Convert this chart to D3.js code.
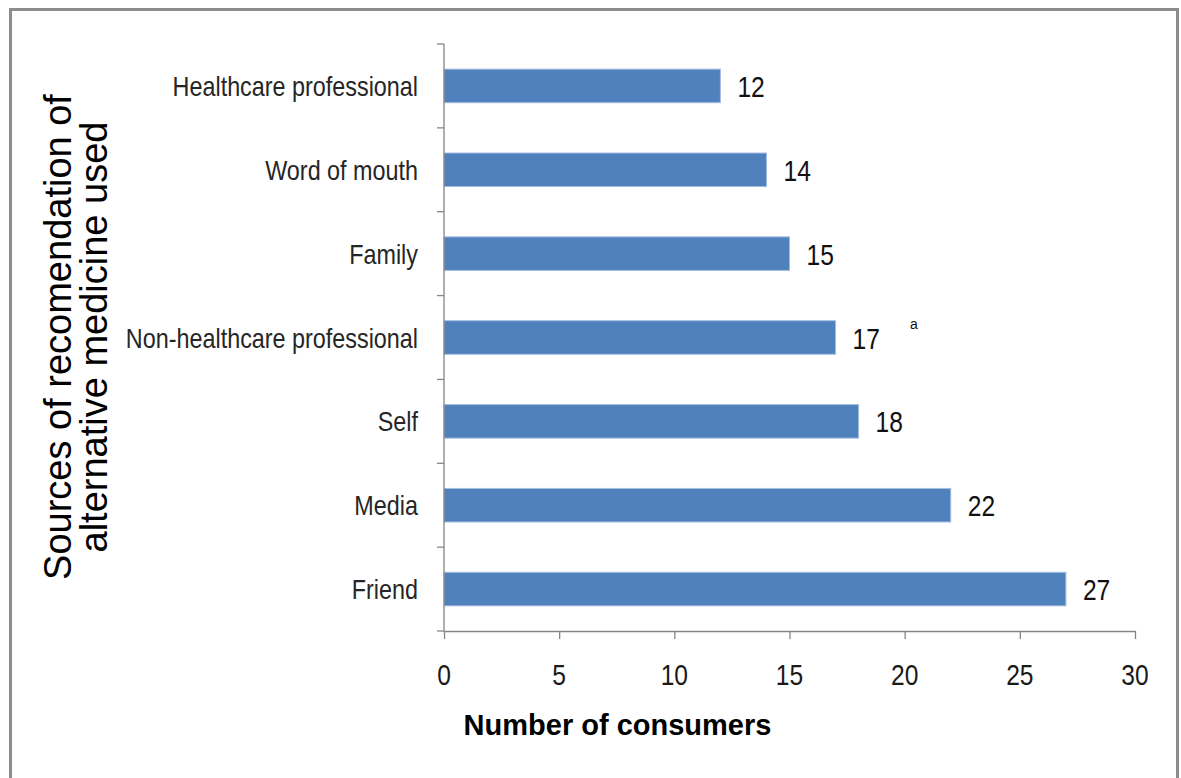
<!DOCTYPE html>
<html>
<head>
<meta charset="utf-8">
<script src="https://cdn.jsdelivr.net/npm/d3@7/dist/d3.min.js"></script>
<style>
  html, body { margin: 0; padding: 0; background: #ffffff; }
  svg { display: block; }
</style>
</head>
<body>
<svg id="chart" width="1181" height="778"></svg>
<script>
// Sources of recommendation and number of consumers per source
const categories = [
  "Healthcare professional",
  "Word of mouth",
  "Family",
  "Non-healthcare professional",
  "Self",
  "Media",
  "Friend"
];
const consumers = [12, 14, 15, 17, 18, 22, 27];
const xTicks = [0, 5, 10, 15, 20, 25, 30];
const xTitle = "Number of consumers";
const yTitleLines = ["Sources of recomendation of", "alternative medicine used"];
const footnoteMark = "a";

const svg = d3.select("#chart");
const W = 1181, H = 778;
const sans = "Liberation Sans, Arial, sans-serif";
// narrow face for labels: regular sans compressed horizontally
const NARROW = 0.82;

function narrowText(sel, opts) {
  // sel: a selection of <g> elements already translated to the anchor point
  return sel.append("text")
    .attr("transform", `scale(${NARROW},1)`)
    .attr("font-family", sans)
    .attr("font-size", opts.size)
    .attr("fill", opts.fill)
    .attr("text-anchor", opts.anchor || "start");
}

// outer frame
svg.append("rect")
  .attr("x", 10.5).attr("y", 9.5)
  .attr("width", 1167).attr("height", H + 20)
  .attr("fill", "none")
  .attr("stroke", "#8c8c8c")
  .attr("stroke-width", 3);

const plot = { left: 444, right: 1135, top: 44, bottom: 631 };

const x = d3.scaleLinear().domain([0, 30]).range([plot.left, plot.right]);
const y = d3.scaleBand()
  .domain(categories)
  .range([plot.top, plot.bottom])
  .paddingInner(0.6)
  .paddingOuter(0.3);

const axisColor = "#868686";
const rows = categories.map((c, i) => ({ c, v: consumers[i] }));

// bars
svg.append("g").selectAll("rect")
  .data(rows)
  .join("rect")
  .attr("x", x(0))
  .attr("y", d => y(d.c))
  .attr("width", d => x(d.v) - x(0))
  .attr("height", y.bandwidth())
  .attr("fill", "#4f81bd")
  .attr("stroke", "#a3bde0")
  .attr("stroke-width", 1);

// value labels
const vl = svg.append("g").selectAll("g")
  .data(rows)
  .join("g")
  .attr("transform", d => `translate(${x(d.v) + 17},${y(d.c) + y.bandwidth() / 2 + 11})`);
narrowText(vl, { size: 30, fill: "#111" }).text(d => d.v);

// x axis
const xAxis = d3.axisBottom(x).tickValues(xTicks).tickSize(8).tickPadding(14).tickSizeOuter(0).tickFormat(() => "");
const gx = svg.append("g")
  .attr("transform", `translate(0,${plot.bottom})`)
  .call(xAxis);
gx.select(".domain").attr("stroke", axisColor).attr("stroke-width", 1.3);
gx.selectAll(".tick line").attr("stroke", axisColor).attr("stroke-width", 1.3);
const xl = svg.append("g").selectAll("g")
  .data(xTicks)
  .join("g")
  .attr("transform", d => `translate(${x(d)},${plot.bottom + 54})`);
narrowText(xl, { size: 30, fill: "#1a1a1a", anchor: "middle" }).text(d => d);

// y axis: line with ticks at band boundaries, labels at band centres
const gy = svg.append("g");
gy.append("line")
  .attr("x1", plot.left).attr("x2", plot.left)
  .attr("y1", plot.top).attr("y2", plot.bottom)
  .attr("stroke", axisColor).attr("stroke-width", 1.3);
const step = y.step();
const boundaries = d3.range(categories.length + 1).map(i => plot.top + i * step);
gy.selectAll("line.tk")
  .data(boundaries)
  .join("line")
  .attr("class", "tk")
  .attr("x1", plot.left - 7).attr("x2", plot.left)
  .attr("y1", d => d).attr("y2", d => d)
  .attr("stroke", axisColor).attr("stroke-width", 1.3);
const yl = gy.selectAll("g.cat")
  .data(categories)
  .join("g")
  .attr("class", "cat")
  .attr("transform", d => `translate(${plot.left - 26},${y(d) + y.bandwidth() / 2 + 10})`);
narrowText(yl, { size: 28.5, fill: "#262626", anchor: "end" }).text(d => d);

// small footnote mark beside the non-healthcare bar
svg.append("text")
  .attr("x", 910)
  .attr("y", 329)
  .attr("font-family", sans)
  .attr("font-size", 14)
  .attr("fill", "#111")
  .text(footnoteMark);

// x axis title
svg.append("text")
  .attr("x", 617.5)
  .attr("y", 735)
  .attr("text-anchor", "middle")
  .attr("font-family", sans)
  .attr("font-weight", "bold")
  .attr("font-size", 29)
  .attr("fill", "#000")
  .text(xTitle);

// y axis title, two rotated lines
const yt = svg.append("text")
  .attr("transform", "translate(0,337) rotate(-90)")
  .attr("text-anchor", "middle")
  .attr("font-family", sans)
  .attr("font-size", 38)
  .attr("fill", "#000");
yTitleLines.forEach((t, i) => {
  yt.append("tspan")
    .attr("x", 0)
    .attr("y", 71 + i * 36)
    .text(t);
});
</script>
</body>
</html>
